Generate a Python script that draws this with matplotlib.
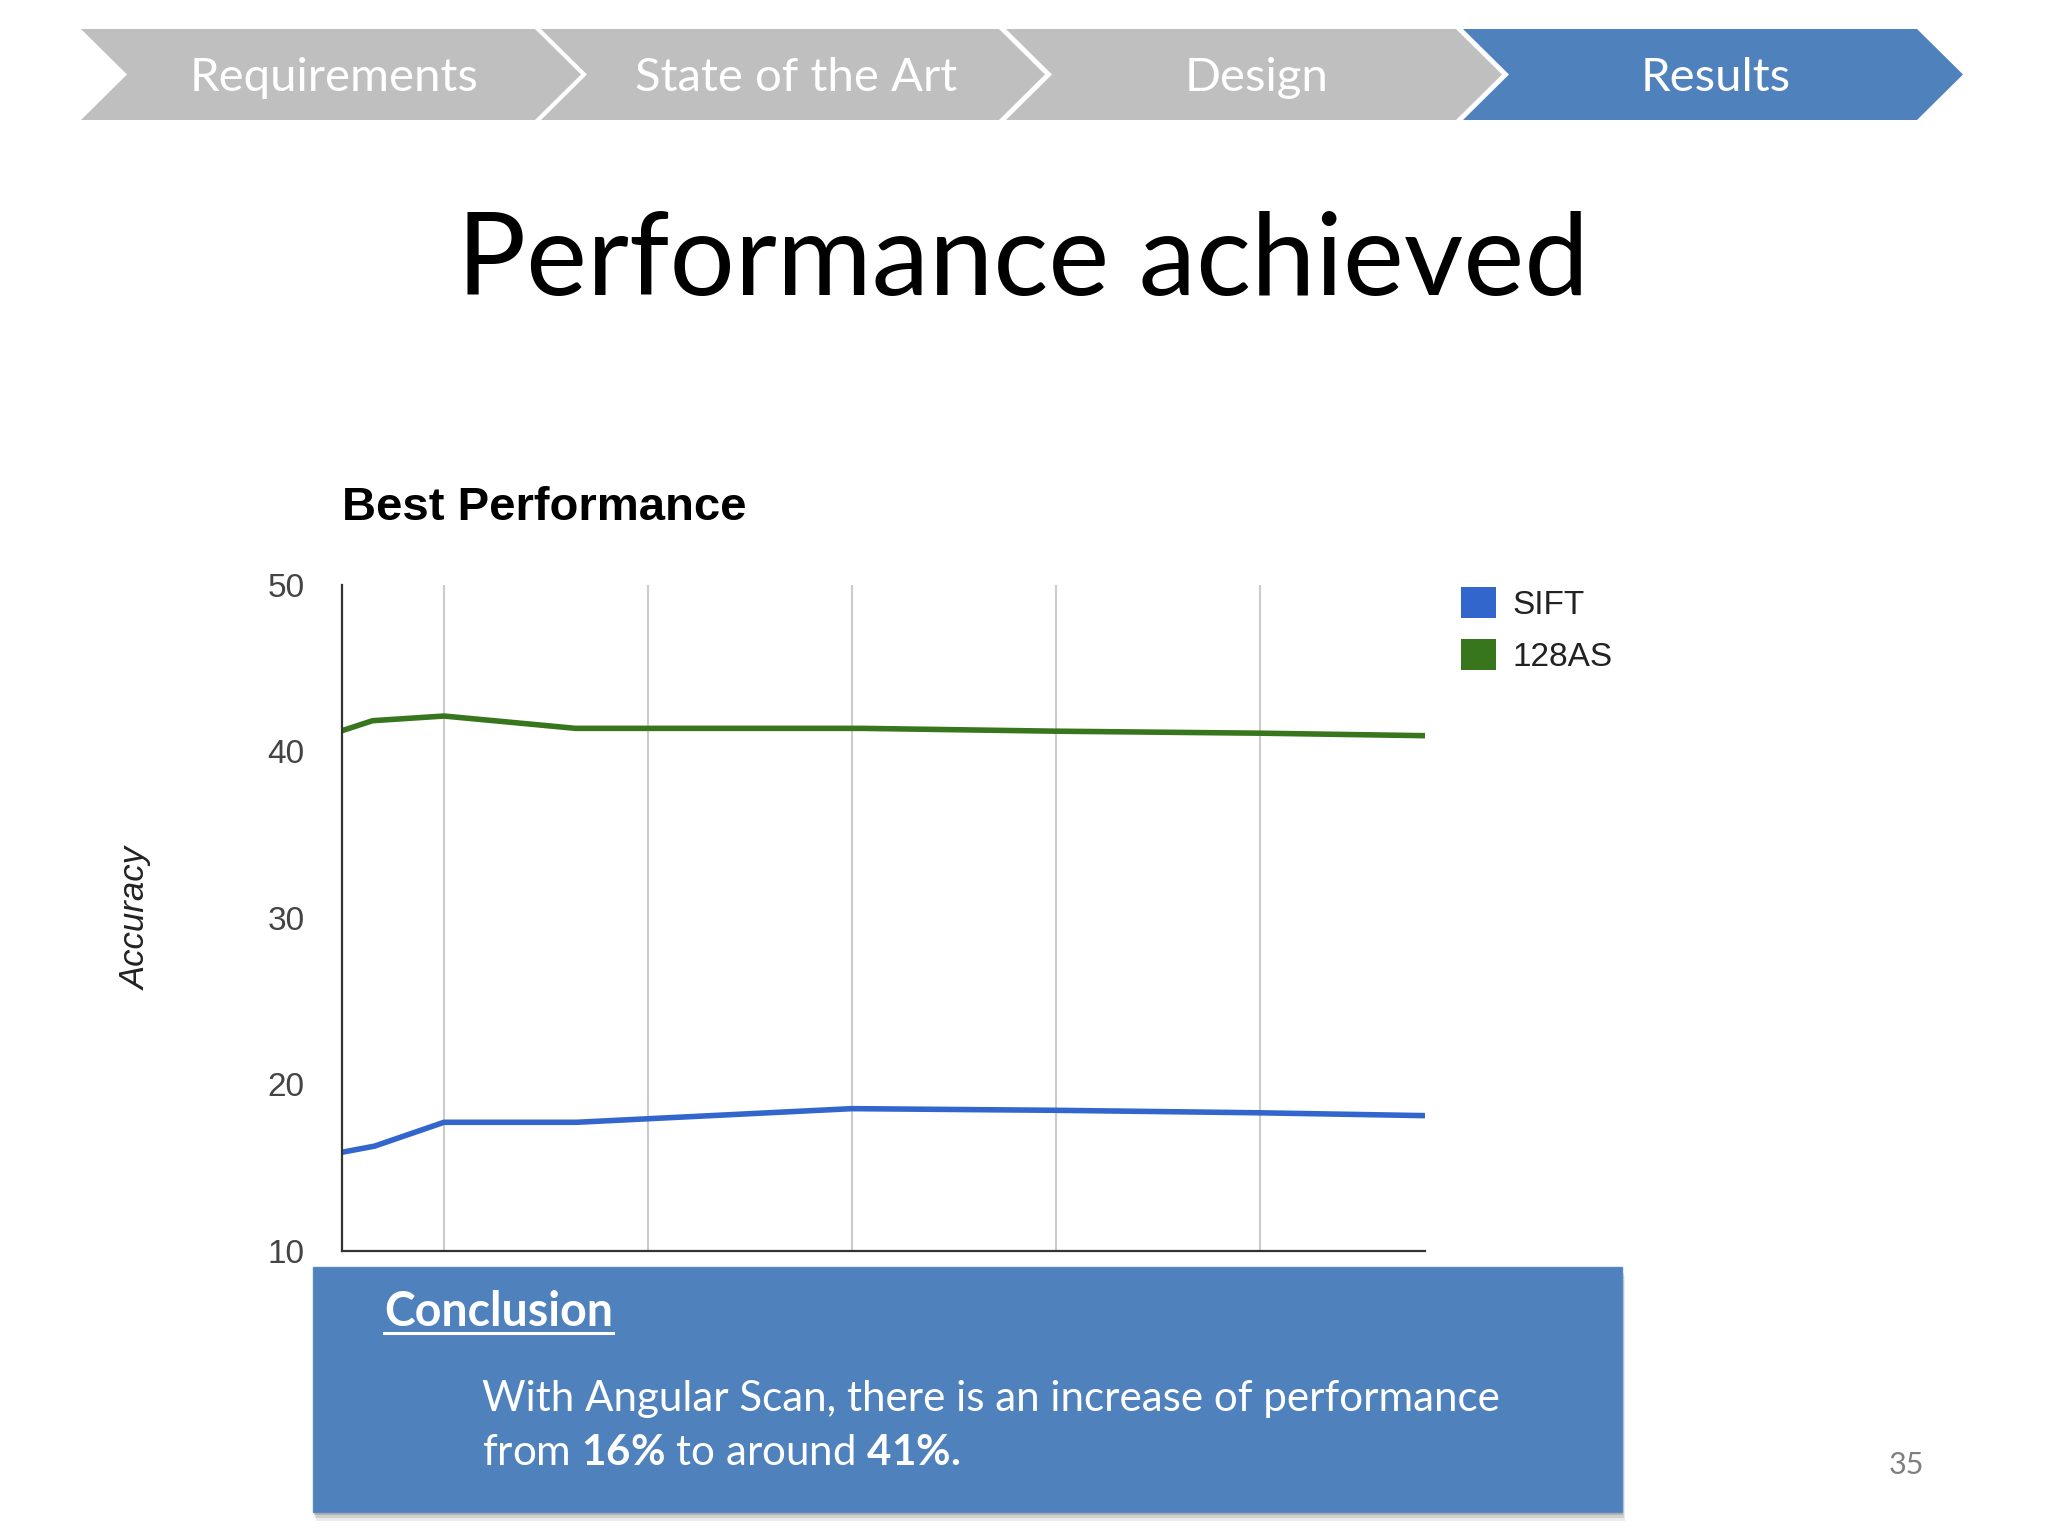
import matplotlib
matplotlib.use("Agg")
import matplotlib.pyplot as plt
from matplotlib.patches import Polygon, Rectangle, Patch

plt.rcParams['font.family'] = ['Lato', 'DejaVu Sans']
plt.rcParams['mathtext.fontset'] = 'custom'
plt.rcParams['mathtext.rm'] = 'Lato'
plt.rcParams['mathtext.bf'] = 'Lato:bold'

# data (x in grid units, grid lines at 1..5)
x_vals = [0.5, 0.66, 1.0, 1.65, 3.0, 4.0, 5.0, 5.81]
sift = [15.93, 16.3, 17.73, 17.73, 18.55, 18.45, 18.3, 18.13]
x_128 = [0.5, 0.65, 1.0, 1.645, 3.05, 4.0, 5.0, 5.81]
as128 = [41.25, 41.85, 42.13, 41.39, 41.39, 41.22, 41.1, 40.95]
series_names = ["SIFT", "128AS"]
series_colors = ["#3366CC", "#38761D"]
y_ticks = [10, 20, 30, 40, 50]

steps = ["Requirements", "State of the Art", "Design", "Results"]
step_left = [81, 541, 1006, 1463]
step_right = [535, 999, 1456, 1917]
active_step = 3

W, H = 2048, 1536
fig = plt.figure(figsize=(W / 100, H / 100), dpi=100)
fig.patch.set_facecolor("white")

# background axes in pixel coordinates for slide decorations
bg = fig.add_axes([0, 0, 1, 1])
bg.set_xlim(0, W)
bg.set_ylim(H, 0)
bg.axis("off")

top, bot, d = 29, 120, 46
mid = (top + bot) / 2
for i, name in enumerate(steps):
    x0, x1 = step_left[i], step_right[i]
    col = "#4F81BD" if i == active_step else "#BFBFBF"
    pts = [(x0, top), (x1, top), (x1 + d, mid), (x1, bot), (x0, bot), (x0 + d, mid)]
    bg.add_patch(Polygon(pts, closed=True, facecolor=col, edgecolor="none"))
    bg.text((x0 + x1 + d) / 2 + 3, 91, name, color="white", fontsize=34,
            ha="center", va="baseline")

bg.text(1023, 295, "Performance achieved", fontsize=83, ha="center",
        va="baseline", color="black")

# conclusion box with a soft shadow
for off, a in [(9, 0.15), (6, 0.25), (3, 0.35)]:
    bg.add_patch(Rectangle((313 + off * 0.3, 1267 + off), 1309, 245,
                           facecolor="#7f7f7f", alpha=a, edgecolor="none"))
bg.add_patch(Rectangle((313, 1267), 1309, 245, facecolor="#4F81BD",
                       edgecolor="#5a8ac4", lw=1))
concl = bg.text(384, 1326, "Conclusion", color="white", fontsize=33.5,
                fontweight="bold", va="baseline")
bg.text(482, 1411, "With Angular Scan, there is an increase of performance",
        color="white", fontsize=30.3, va="baseline")
bg.text(482, 1465, r"from $\mathbf{16\%}$ to around $\mathbf{41\%.}$",
        color="white", fontsize=30.3, va="baseline")

bg.text(1906, 1465, "35", color="#7F7F7F", fontsize=22, ha="center", va="center")

# the chart itself
ax = fig.add_axes([342 / W, 1 - 1251 / H, (1425 - 342) / W, (1251 - 585) / H])
ax.set_facecolor("none")
ax.plot(x_vals, sift, color=series_colors[0], lw=4.0, solid_capstyle="butt",
        solid_joinstyle="round")
ax.plot(x_128, as128, color=series_colors[1], lw=4.0, solid_capstyle="butt",
        solid_joinstyle="round")
ax.set_xlim(0.5, 5.81)
ax.set_ylim(10, 50)
ax.set_xticks([1, 2, 3, 4, 5])
ax.set_xticklabels([])
ax.grid(axis="x", color="#CCCCCC", lw=1.5)
ax.set_yticks(y_ticks)
ax.set_yticklabels([str(v) for v in y_ticks], family="Liberation Sans",
                   fontsize=24, color="#444444")
ax.tick_params(length=0)
ax.tick_params(axis="y", pad=27)
for s in ["top", "right"]:
    ax.spines[s].set_visible(False)
for s in ["left", "bottom"]:
    ax.spines[s].set_color("#333333")
    ax.spines[s].set_linewidth(1.6)
ax.set_axisbelow(True)
ax.set_title("Best Performance", loc="left", pad=47, fontsize=34,
             fontweight="bold", family="Liberation Sans", color="black")

fig.text(136 / W, 1 - 918 / H, "Accuracy", rotation=90, ha="center",
         va="center", fontsize=25, style="italic", family="Liberation Sans",
         color="#222222")

handles = [Patch(facecolor=c, edgecolor="none") for c in series_colors]
leg = ax.legend(handles, series_names, loc="upper left",
                bbox_to_anchor=(1444 / W, 1 - 570 / H),
                bbox_transform=fig.transFigure, frameon=False, borderpad=0,
                handlelength=1.05, handleheight=1.05, handletextpad=0.5,
                labelspacing=0.55, prop={"family": "Liberation Sans", "size": 24})
for t in leg.get_texts():
    t.set_color("#222222")

# underline for the "Conclusion" heading
fig.canvas.draw()
bb = concl.get_window_extent()
bg.plot([bb.x0, bb.x1], [1333, 1333], color="white", lw=2.2)

fig.savefig("out.png", dpi=100)
